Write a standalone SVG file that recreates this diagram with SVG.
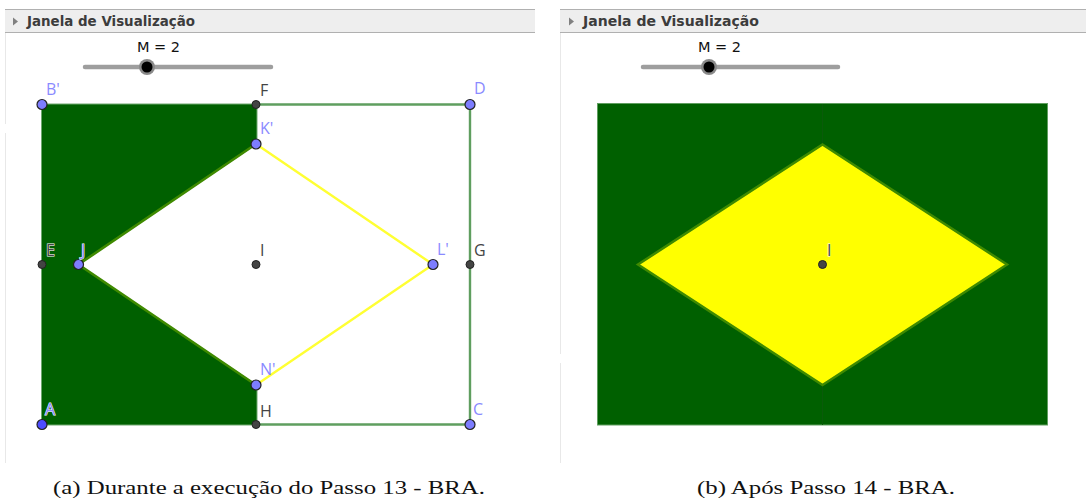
<svg xmlns="http://www.w3.org/2000/svg" width="1086" height="500" viewBox="0 0 1086 500">
<style>
.hdr{fill:#eeeeee;stroke:none}
.hl{stroke:#b0b0b0;stroke-width:1;fill:none}
.vl{stroke:#e8e8e8;stroke-width:1;fill:none}
.ht{font:bold 14.5px "DejaVu Sans",sans-serif;fill:#3c3c3c}
.tri{fill:#808080}
.mt{font:14.5px "DejaVu Sans",sans-serif;fill:#111}
.track{stroke:#9e9e9e;stroke-width:4.5;stroke-linecap:round;fill:none}
.lb{font:16px "Open Sans","DejaVu Sans",sans-serif}
.blue{fill:#8a8aff}
.dark{fill:#444}
.halo{paint-order:stroke;stroke:#fff;stroke-width:1}
.pb{fill:#7d7dff;stroke:#222;stroke-width:1.200}
.pA{fill:#4d4dff;stroke:#222;stroke-width:1.200}
.pd{fill:#444;stroke:#222;stroke-width:1}
.g{stroke:#5f9e5f;stroke-width:2.400;fill:none}
.y{stroke:#ffff33;stroke-width:2.400;fill:none}
.dg{fill:#006000}
.edge{stroke:#3f8a00;stroke-width:2.600;fill:none}
.cap{font:19.500px "Liberation Serif","Times New Roman",serif;fill:#111}
</style>
<g id="panel-a-frame">
<rect class="hdr" x="5" y="10" width="530" height="22"/>
<path class="hl" d="M5 9.500H535M5 32.500H535"/>
<path class="vl" d="M5.500 33V124M5.500 133V463"/>
<path class="tri" d="M13 17.500L18 21.500L13 25.500Z"/>
<text class="ht" x="27" y="26" textLength="168" lengthAdjust="spacingAndGlyphs">Janela de Visualização</text>
</g>
<g id="panel-b-frame">
<rect class="hdr" x="560" y="10" width="526" height="22"/>
<path class="hl" d="M560 9.500H1086M560 32.500H1086"/>
<path class="vl" d="M560.500 33V354M560.500 363V463"/>
<path class="tri" d="M569 17.500L574 21.500L569 25.500Z"/>
<text class="ht" x="583" y="26" textLength="176" lengthAdjust="spacingAndGlyphs">Janela de Visualização</text>
</g>
<g id="slider-a">
<text class="mt" x="137" y="52" textLength="43">M = 2</text>
<path class="track" d="M85 67H271"/>
<circle cx="147" cy="67" r="8" fill="#8a8a8a"/>
<circle cx="147" cy="67" r="5.500" fill="#000"/>
</g>
<g id="slider-b">
<text class="mt" x="698" y="52" textLength="43">M = 2</text>
<path class="track" d="M643 67H838"/>
<circle cx="709" cy="67" r="8" fill="#8a8a8a"/>
<circle cx="709" cy="67" r="5.500" fill="#000"/>
</g>
<g id="connectors">
<path class="dg" d="M41 104H257V144L78.500 264.500L257 385V425H41Z"/>
<path d="M41.500 104H257V144M257 385V425H41.500V104" fill="none" stroke="#6fa86f" stroke-width="1"/>
<path class="edge" d="M256 144L78.500 264.500L256 385"/>
<path class="g" d="M256 104.500H470V424.500H256"/>
<path class="y" d="M256 144L433 264.500L256 385"/>
<rect class="dg" x="597.500" y="103.500" width="450" height="321.500" stroke="#5f9e5f" stroke-width="1"/>
<path d="M822.500 104V144M822.500 385V425" stroke="#0a5a0a" stroke-width="1" fill="none"/>
<path d="M822.500 144.500L1007 264.500L822.500 385L638 264.500Z" fill="#ffff00" stroke="#3f8a00" stroke-width="2.500"/>
</g>
<g id="node-Bp"><circle class="pb" cx="42" cy="104.500" r="5"/><text class="lb blue" x="46" y="95">B'</text></g>
<g id="node-F"><circle class="pd" cx="256" cy="104.500" r="4"/><text class="lb dark" x="260" y="96">F</text></g>
<g id="node-D"><circle class="pb" cx="470" cy="104.500" r="5"/><text class="lb blue" x="474" y="94">D</text></g>
<g id="node-Kp"><circle class="pb" cx="256" cy="144" r="5"/><text class="lb blue" x="260" y="134">K'</text></g>
<g id="node-E"><circle class="pd" cx="42" cy="264.500" r="4"/><text class="lb dark halo" x="46" y="256">E</text></g>
<g id="node-J"><circle class="pb" cx="78.500" cy="264.500" r="5"/><text class="lb blue halo" x="81" y="256">J</text></g>
<g id="node-I"><circle class="pd" cx="256" cy="264.500" r="4"/><text class="lb dark" x="260" y="256">I</text></g>
<g id="node-Lp"><circle class="pb" cx="433" cy="264.500" r="5"/><text class="lb blue" x="437" y="255">L'</text></g>
<g id="node-G"><circle class="pd" cx="470" cy="264.500" r="4"/><text class="lb dark" x="474" y="256">G</text></g>
<g id="node-Np"><circle class="pb" cx="256" cy="385" r="5"/><text class="lb blue" x="260" y="375">N'</text></g>
<g id="node-A"><circle class="pA" cx="42" cy="424.500" r="5"/><text class="lb blue halo" x="45" y="415">A</text></g>
<g id="node-H"><circle class="pd" cx="256" cy="424.500" r="4"/><text class="lb dark" x="260" y="417">H</text></g>
<g id="node-C"><circle class="pb" cx="470" cy="424.500" r="5"/><text class="lb blue" x="473" y="415">C</text></g>
<g id="node-I2"><circle class="pd" cx="822.500" cy="264.500" r="4"/><text class="lb dark halo" x="827" y="256">I</text></g>
<g id="captions">
<text class="cap" x="53" y="494" textLength="432" lengthAdjust="spacingAndGlyphs">(a) Durante a execução do Passo 13 - BRA.</text>
<text class="cap" x="697" y="494" textLength="258" lengthAdjust="spacingAndGlyphs">(b) Após Passo 14 - BRA.</text>
</g>
</svg>
